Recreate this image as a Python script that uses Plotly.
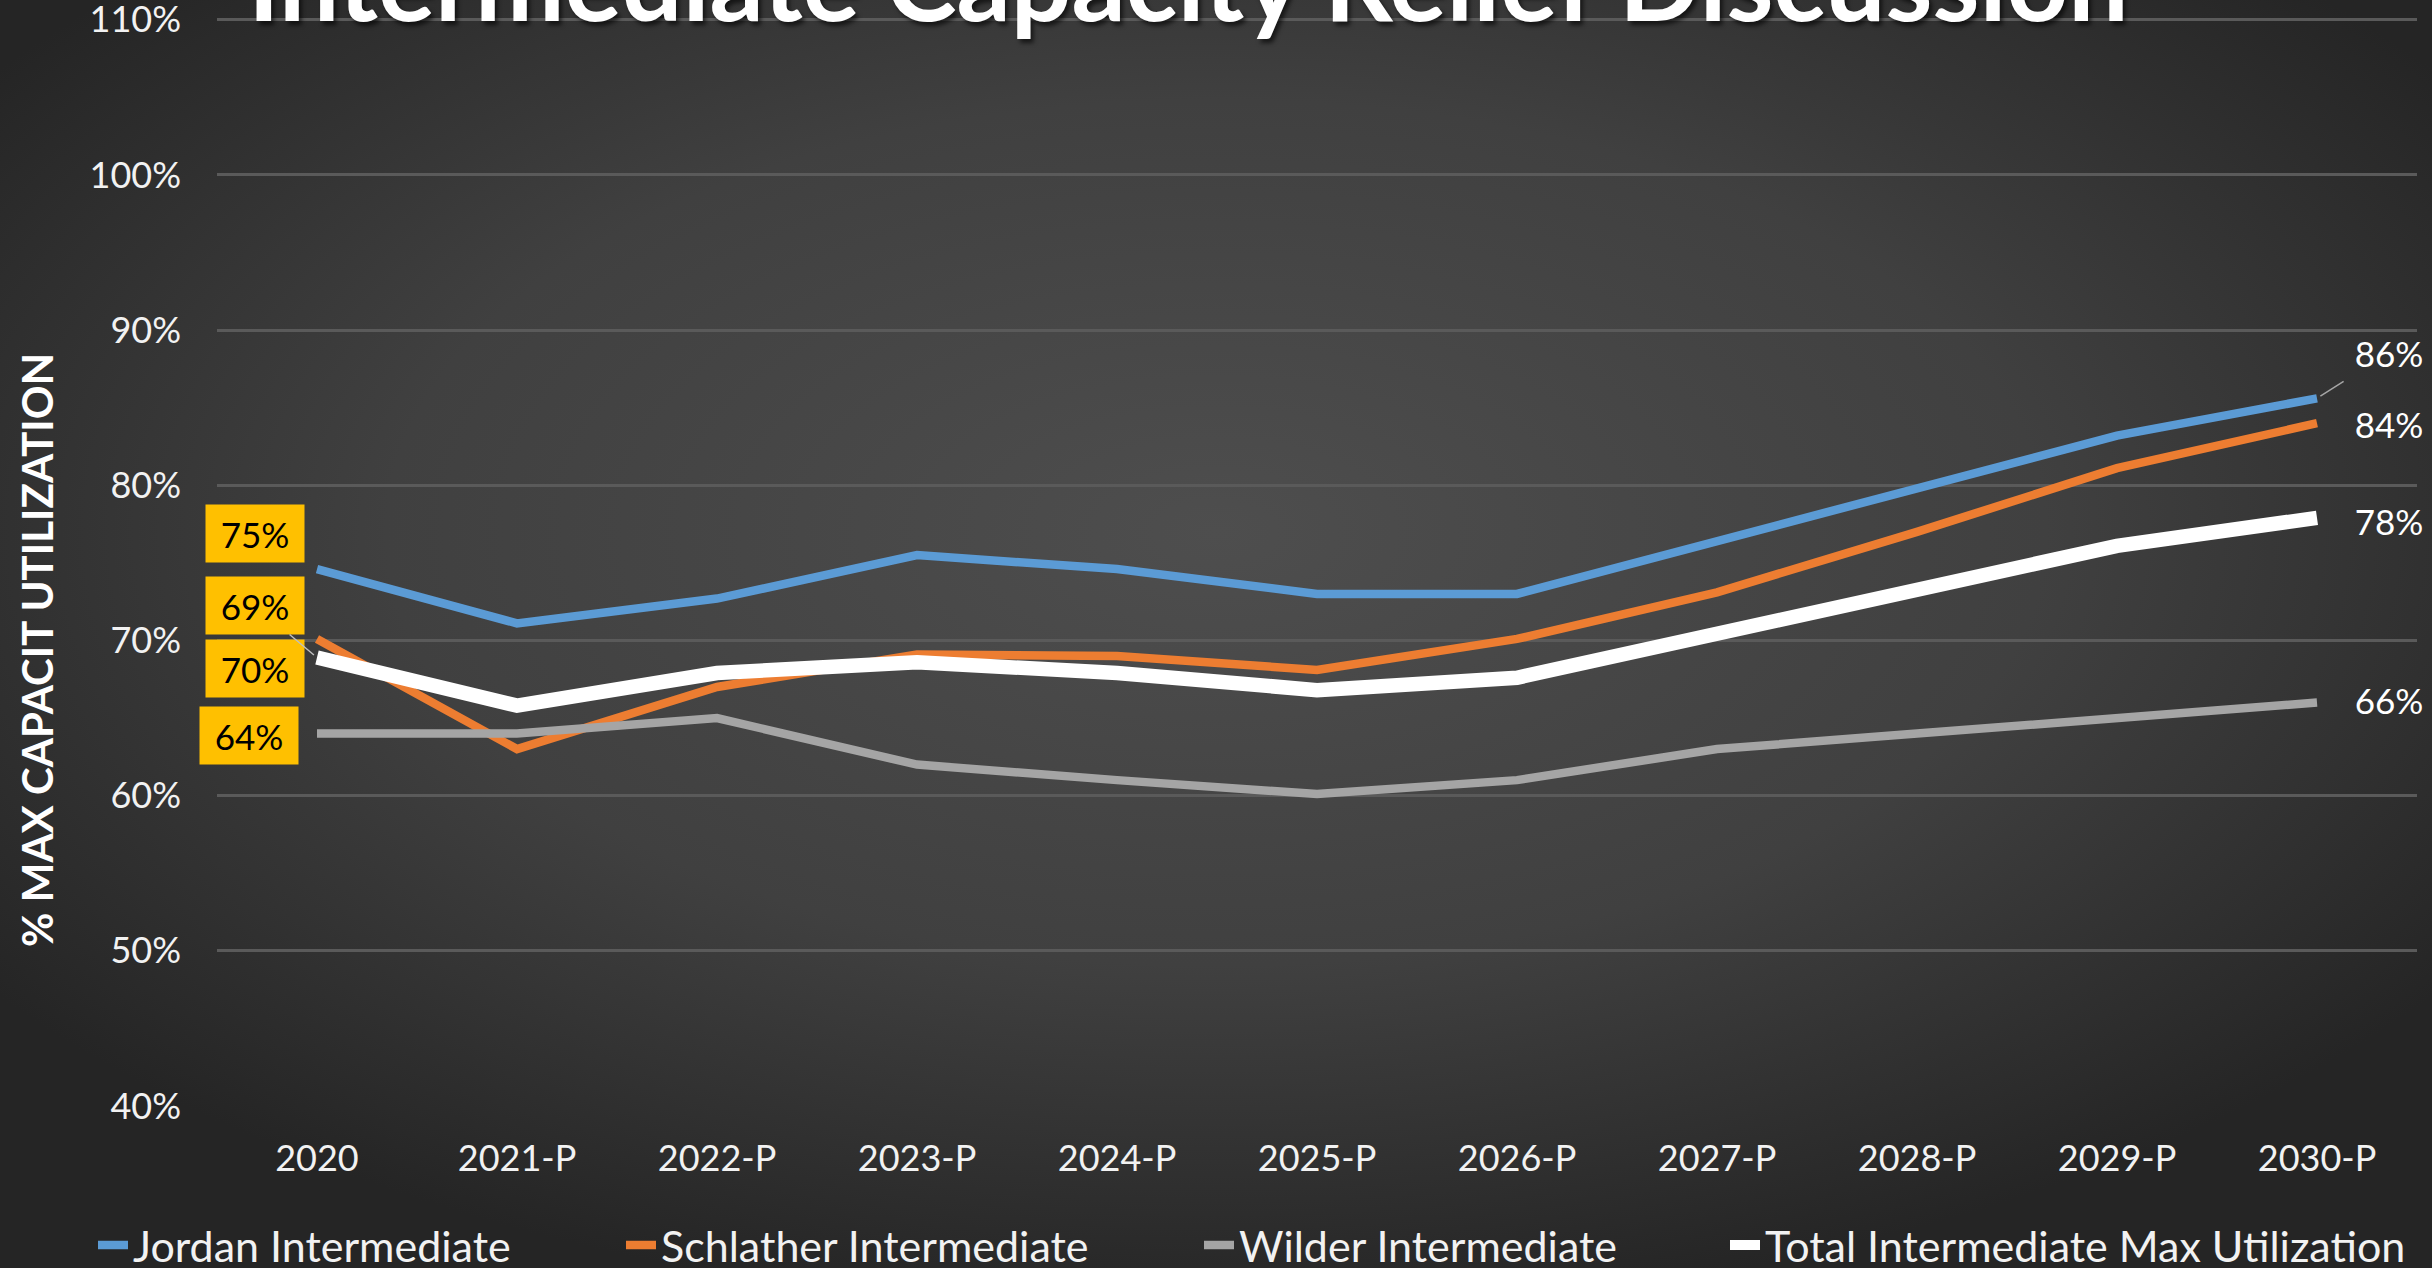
import base64
import plotly.graph_objects as go

# ---------------- data ----------------
categories = ["2020", "2021-P", "2022-P", "2023-P", "2024-P", "2025-P",
              "2026-P", "2027-P", "2028-P", "2029-P", "2030-P"]
jordan = [74.6, 71.1, 72.7, 75.5, 74.6, 73.0, 73.0, 76.4, 79.8, 83.2, 85.6]
schlather = [70.1, 63.0, 67.0, 69.1, 69.0, 68.1, 70.1, 73.1, 77.0, 81.1, 84.0]
wilder = [64.0, 64.0, 65.0, 62.0, 61.0, 60.1, 61.0, 63.0, 64.0, 65.0, 66.0]
total = [68.9, 65.8, 67.9, 68.6, 67.9, 66.8, 67.6, 70.4, 73.3, 76.1, 77.9]
series_names = ["Jordan Intermediate", "Schlather Intermediate",
                "Wilder Intermediate", "Total Intermediate Max Utilization"]
y_tick_values = [40, 50, 60, 70, 80, 90, 100, 110]
y_tick_labels = [f"{v}%" for v in y_tick_values]
title_text = "Intermediate Capacity Relief Discussion"
y_title_text = "% MAX CAPACIT UTILIZATION"

# ---------------- styles ----------------
W, H = 2432, 1268
Y_BOTTOM_PX, Y_TOP_PX = 1106, 20          # pixel rows of 40% and 110%
RANGE_PAD = 0.5                           # headroom above 110% so its grid line is drawn
px_per_unit = (Y_BOTTOM_PX - Y_TOP_PX) / (y_tick_values[-1] - y_tick_values[0])
ML, MR = 217, 15
MT = Y_TOP_PX - RANGE_PAD * px_per_unit
MB = H - Y_BOTTOM_PX
PW, PH = W - ML - MR, H - MT - MB
FONT = "Lato"
colors = ["#5B9BD5", "#ED7D31", "#A5A5A5", "#FFFFFF"]
widths = [8.5, 8.5, 8.5, 14.5]
legend_widths = [483, 533, 481, 644]


def py(pixel_row):
    """pixel row (from top of figure) -> paper y"""
    return (Y_BOTTOM_PX - pixel_row) / PH


def px(pixel_col):
    return (pixel_col - ML) / PW


# background radial gradient (SVG data URI)
svg = f"""<svg xmlns='http://www.w3.org/2000/svg' width='{W}' height='{H}'>
<defs><radialGradient id='g' cx='50%' cy='42%' r='62%' fx='50%' fy='42%'>
<stop offset='0%' stop-color='#4E4E4E'/><stop offset='55%' stop-color='#404040'/>
<stop offset='100%' stop-color='#252525'/></radialGradient></defs>
<rect width='{W}' height='{H}' fill='url(#g)'/></svg>"""
bg_uri = "data:image/svg+xml;base64," + base64.b64encode(svg.encode()).decode()

fig = go.Figure()
all_series = [jordan, schlather, wilder, total]
for name, vals, col, w, lw in zip(series_names, all_series, colors, widths, legend_widths):
    fig.add_trace(go.Scatter(
        x=categories, y=vals, name=name, mode="lines",
        line=dict(color=col, width=w),
        legendwidth=lw,
        hovertemplate="%{x}: %{y:.0f}%<extra>" + name + "</extra>",
    ))

annotations = []
first_i, last_i = 0, len(categories) - 1
# left (first point) labels: yellow boxes
left_offsets = [(-62, 36, False), (-62, -30, False), (-68, -2, False), (-62, 52, True)]
for vals, (dx, dy, leader) in zip(all_series, left_offsets):
    a = dict(x=first_i, y=vals[first_i], xref="x", yref="y",
             text=f"{round(vals[first_i])}%", font=dict(family=FONT, size=35, color="#000000"),
             bgcolor="#FFC000", width=98, height=57, borderpad=0,
             align="center", valign="middle")
    if leader:
        a.update(showarrow=True, ax=dx, ay=-dy, arrowhead=0, arrowwidth=1.5,
                 arrowcolor="#BFBFBF", standoff=4)
    else:
        a.update(showarrow=False, xshift=dx, yshift=dy)
    annotations.append(a)

# right (last point) labels: white text
right_offsets = [(72, 46, True), (72, 0, False), (72, 3, False), (72, -3, False)]
for vals, (dx, dy, leader) in zip(all_series, right_offsets):
    a = dict(x=last_i, y=vals[last_i], xref="x", yref="y",
             text=f"{round(vals[last_i])}%", font=dict(family=FONT, size=35, color="#FFFFFF"),
             width=98, height=57, borderpad=0, align="center", valign="middle")
    if leader:
        a.update(showarrow=True, ax=dx, ay=-dy, arrowhead=0, arrowwidth=1.5,
                 arrowcolor="#A6A6A6", standoff=4)
    else:
        a.update(showarrow=False, xshift=dx, yshift=dy)
    annotations.append(a)

# chart title (partly cut off at the top, as in the reference)
annotations.append(dict(
    text=f"<b>{title_text}</b>", xref="paper", yref="paper",
    x=px(1188), y=py(46), xanchor="center", yanchor="bottom",
    showarrow=False,
    font=dict(family=FONT, size=107, color="#FFFFFF", shadow="3px 4px 4px rgba(0,0,0,0.6)"),
))
# y-axis title
annotations.append(dict(
    text=f"<b>{y_title_text}</b>", xref="paper", yref="paper",
    x=px(37), y=py(650), xanchor="center", yanchor="middle",
    textangle=-90, showarrow=False,
    font=dict(family=FONT, size=42, color="#FFFFFF"),
))

fig.update_layout(
    width=W, height=H,
    margin=dict(l=ML, r=MR, t=MT, b=MB, pad=0, autoexpand=False),
    paper_bgcolor="#363636", plot_bgcolor="rgba(0,0,0,0)",
    font=dict(family=FONT, color="#F2F2F2"),
    images=[dict(source=bg_uri, xref="paper", yref="paper",
                 x=-ML / PW, y=1 + MT / PH, sizex=W / PW, sizey=H / PH,
                 sizing="stretch", layer="below", xanchor="left", yanchor="top")],
    xaxis=dict(type="category", range=[-0.5, len(categories) - 0.5],
               showgrid=False, zeroline=False, showline=False, ticks="",
               tickfont=dict(family=FONT, size=36, color="#F2F2F2"),
               ticklabelstandoff=28),
    yaxis=dict(range=[y_tick_values[0], y_tick_values[-1] + RANGE_PAD],
               tickmode="array", tickvals=y_tick_values, ticktext=y_tick_labels,
               showgrid=True, gridcolor="#5A5A5A", gridwidth=2.5,
               zeroline=False, showline=False, ticks="",
               tickfont=dict(family=FONT, size=36, color="#F2F2F2"),
               ticklabelstandoff=35, ticklabeloverflow="allow"),
    showlegend=True,
    legend=dict(orientation="h", x=px(93), xanchor="left",
                y=py(1245), yanchor="middle",
                font=dict(family=FONT, size=43, color="#F2F2F2"),
                bgcolor="rgba(0,0,0,0)", borderwidth=0),
    annotations=annotations,
    hovermode="closest",
)

fig.write_html("out.html", config={"displayModeBar": False},
               post_script="document.body.style.margin='0px';document.body.style.overflow='hidden';")
